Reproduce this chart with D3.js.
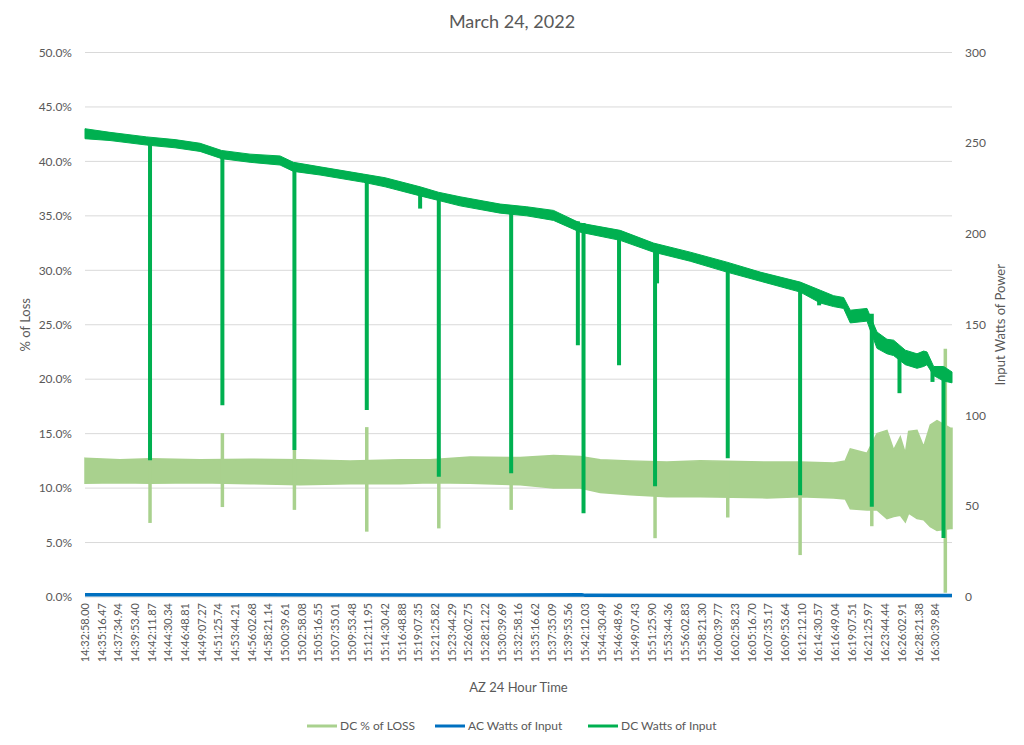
<!DOCTYPE html>
<html><head><meta charset="utf-8">
<script src="https://cdn.jsdelivr.net/npm/d3@7"></script>
<style>
body{margin:0;background:#fff;}
text{font-family:Lato,"Open Sans",sans-serif;fill:#595959;}
</style>
</head><body>
<svg id="chart" width="1024" height="745"></svg>
<script>
// ---------------- DATA ----------------
const tickLabels = ["14:32:58.00","14:35:16.47","14:37:34.94","14:39:53.40","14:42:11.87","14:44:30.34","14:46:48.81","14:49:07.27","14:51:25.74","14:53:44.21","14:56:02.68","14:58:21.14","15:00:39.61","15:02:58.08","15:05:16.55","15:07:35.01","15:09:53.48","15:12:11.95","15:14:30.42","15:16:48.88","15:19:07.35","15:21:25.82","15:23:44.29","15:26:02.75","15:28:21.22","15:30:39.69","15:32:58.16","15:35:16.62","15:37:35.09","15:39:53.56","15:42:12.03","15:44:30.49","15:46:48.96","15:49:07.43","15:51:25.90","15:53:44.36","15:56:02.83","15:58:21.30","16:00:39.77","16:02:58.23","16:05:16.70","16:07:35.17","16:09:53.64","16:12:12.10","16:14:30.57","16:16:49.04","16:19:07.51","16:21:25.97","16:23:44.44","16:26:02.91","16:28:21.38","16:30:39.84"];

// position in units of tick-label intervals
const dcWattsT    = [0, 1.5, 3.7, 5.4, 6.9, 8.2, 9.9, 11.7, 12.5, 14.1, 16.7, 18.0, 20.1, 21.2, 22.5, 24.9, 26.5, 28.1, 29.7, 32.1, 34.1, 36.3, 38.5, 40.5, 42.9, 44.1, 44.9, 45.5, 45.9, 46.9, 47.5, 48.1, 48.5, 49.2, 49.9, 50.3, 50.5, 50.9, 51.5, 52.0];
const dcWattsHigh = [258, 256, 253.5, 252, 250, 246, 244, 243, 239.5, 237, 233, 231, 226, 223, 220.5, 216.5, 215, 213, 206, 202, 195, 190, 184.5, 179, 173.5, 169, 166, 165, 158, 159, 146, 142, 141.5, 136, 134, 135.5, 135, 127, 127, 124];
const dcWattsLow  = [252.5, 251.5, 249, 247.5, 245.5, 241.5, 239.5, 238, 234.5, 232.5, 228.5, 226, 221, 218.5, 215.5, 211.5, 210, 207.5, 201, 196.5, 190, 185, 179, 174, 168, 162, 160, 159, 151, 152, 137, 134, 133, 128, 126, 127, 128, 122, 119, 118];

const dcDropT      = [3.9, 8.24, 12.56, 16.9, 20.1, 21.22, 25.56, 29.56, 29.9, 32.03, 34.19, 34.31, 38.55, 42.89, 44.03, 47.19, 48.85, 50.83, 51.49];
const dcDropTop    = [251, 245, 238, 231, 224, 221, 213, 207, 206, 200, 193, 193, 182, 171, 166, 156, 136, 126, 123];
const dcDropBottom = [75.4, 105.7, 81, 103, 214, 66.2, 68.2, 138.7, 46.2, 127.7, 61, 172.8, 76.5, 56, 160.7, 49.7, 112.3, 118.5, 32.5];

const lossT    = [0, 2.1, 3.9, 6.9, 9.9, 12.9, 15.9, 18.9, 20.7, 23.1, 26.1, 28.1, 29.7, 30.9, 32.7, 34.9, 36.9, 40.9, 42.9, 44.9, 45.6, 45.9, 46.9, 47.5, 48.1, 48.5, 48.9, 49.2, 49.4, 49.9, 50.3, 50.7, 51.1, 51.9, 52.0];
const lossHigh = [12.75, 12.6, 12.7, 12.6, 12.65, 12.6, 12.5, 12.6, 12.6, 12.85, 12.8, 13.0, 12.9, 12.6, 12.5, 12.4, 12.5, 12.4, 12.4, 12.3, 12.5, 13.6, 13.2, 15.0, 15.3, 13.5, 14.7, 13.2, 15.2, 15.3, 13.8, 15.8, 16.2, 15.5, 15.5];
const lossLow  = [10.45, 10.5, 10.45, 10.5, 10.4, 10.3, 10.4, 10.4, 10.5, 10.45, 10.3, 10.0, 10.0, 9.6, 9.4, 9.2, 9.2, 9.1, 9.2, 9.1, 9.0, 8.1, 8.0, 8.0, 7.2, 7.4, 7.5, 6.9, 7.7, 7.2, 7.1, 6.45, 6.1, 6.3, 6.3];

const lossSpikeT    = [3.9, 8.24, 12.56, 16.9, 21.22, 25.56, 34.19, 38.55, 42.89, 47.19, 51.6];
const lossSpikeHigh = [12.5, 15.05, 13.5, 15.6, 12.9, 12.8, 12.4, 12.4, 12.3, 13.5, 22.8];
const lossSpikeLow  = [6.8, 8.26, 8.0, 6.0, 6.3, 8.0, 5.4, 7.3, 3.85, 6.5, 0.4];

const acT     = [0, 10, 20, 29.8, 30.0, 40, 52];
const acWatts = [1.2, 1.2, 1.1, 1.2, 0.9, 0.8, 0.8];

const leftTicks  = [0, 5, 10, 15, 20, 25, 30, 35, 40, 45, 50];
const rightTicks = [0, 50, 100, 150, 200, 250, 300];

const seriesNames  = ["DC % of LOSS", "AC Watts of Input", "DC Watts of Input"];
const seriesColors = ["#A9D18E", "#0070C0", "#00B050"];

// ---------------- CHART ----------------
const svg = d3.select("#chart");
const L = 85, R = 952, T = 52.5, B = 597;
const x  = d3.scaleLinear().domain([0, 52]).range([L, R]);
const yL = d3.scaleLinear().domain([0, 50]).range([B, T]);
const yR = d3.scaleLinear().domain([0, 300]).range([B, T]);

// title
svg.append("text").attr("x", 512).attr("y", 28).attr("text-anchor", "middle")
  .style("font-size", "18px").text("March 24, 2022");

// gridlines
svg.append("g").selectAll("line").data(leftTicks).join("line")
  .attr("x1", L).attr("x2", R).attr("y1", d => yL(d)).attr("y2", d => yL(d))
  .attr("stroke", "#d9d9d9").attr("stroke-width", 1);

// left axis labels
svg.append("g").selectAll("text").data(leftTicks).join("text")
  .attr("x", 72).attr("y", d => yL(d)).attr("dy", "0.35em").attr("text-anchor", "end")
  .style("font-size", "12px").text(d => d3.format(".1f")(d) + "%");

// right axis labels
svg.append("g").selectAll("text").data(rightTicks).join("text")
  .attr("x", 965).attr("y", d => yR(d)).attr("dy", "0.35em").attr("text-anchor", "start")
  .style("font-size", "12px").text(d => d);

// x tick labels
svg.append("g").selectAll("text").data(tickLabels).join("text")
  .attr("transform", (d, i) => `translate(${x(i)},603) rotate(-90)`)
  .attr("dy", "0.35em").attr("text-anchor", "end")
  .style("font-size", "11px").text(d => d);

// axis titles
svg.append("text").attr("transform", `translate(25,${(T + B) / 2}) rotate(-90)`)
  .attr("text-anchor", "middle").attr("dy", "0.35em").style("font-size", "13px").text("% of Loss");
svg.append("text").attr("transform", `translate(1000,${(T + B) / 2}) rotate(-90)`)
  .attr("text-anchor", "middle").attr("dy", "0.35em").style("font-size", "13px").text("Input Watts of Power");
svg.append("text").attr("x", (L + R) / 2).attr("y", 692).attr("text-anchor", "middle")
  .style("font-size", "13px").text("AZ 24 Hour Time");

// DC % of LOSS band
const lossData = lossT.map((t, i) => ({t, hi: lossHigh[i], lo: lossLow[i]}));
svg.append("path").datum(lossData)
  .attr("d", d3.area().x(d => x(d.t)).y0(d => yL(d.lo)).y1(d => yL(d.hi)))
  .attr("fill", seriesColors[0]).attr("stroke", seriesColors[0]).attr("stroke-width", 1.5);
svg.append("g").selectAll("line").data(lossSpikeT.map((t, i) => ({t, hi: lossSpikeHigh[i], lo: lossSpikeLow[i]})))
  .join("line")
  .attr("x1", d => x(d.t)).attr("x2", d => x(d.t))
  .attr("y1", d => yL(d.hi)).attr("y2", d => yL(d.lo))
  .attr("stroke", seriesColors[0]).attr("stroke-width", 3.5);

// AC Watts line
svg.append("path").datum(acT.map((t, i) => ({t, v: acWatts[i]})))
  .attr("d", d3.line().x(d => x(d.t)).y(d => yR(d.v)))
  .attr("fill", "none").attr("stroke", seriesColors[1]).attr("stroke-width", 3.5);

// DC Watts band
const dcData = dcWattsT.map((t, i) => ({t, hi: dcWattsHigh[i], lo: dcWattsLow[i]}));
svg.append("path").datum(dcData)
  .attr("d", d3.area().x(d => x(d.t)).y0(d => yR(d.lo)).y1(d => yR(d.hi)))
  .attr("fill", seriesColors[2]).attr("stroke", seriesColors[2]).attr("stroke-width", 1)
  .attr("stroke-linejoin", "round");
svg.append("g").selectAll("line").data(dcDropT.map((t, i) => ({t, top: dcDropTop[i], bot: dcDropBottom[i]})))
  .join("line")
  .attr("x1", d => x(d.t)).attr("x2", d => x(d.t))
  .attr("y1", d => yR(d.top)).attr("y2", d => yR(d.bot))
  .attr("stroke", seriesColors[2]).attr("stroke-width", 4);

// legend
const legendX = [307, 435, 588];
const lg = svg.append("g").selectAll("g").data(seriesNames).join("g")
  .attr("transform", (d, i) => `translate(${legendX[i]},726)`);
lg.append("line").attr("x1", 0).attr("x2", 30).attr("y1", 0).attr("y2", 0)
  .attr("stroke", (d, i) => seriesColors[i]).attr("stroke-width", 3);
lg.append("text").attr("x", 33).attr("dy", "0.35em").style("font-size", "12px").text(d => d);
</script>
</body></html>
